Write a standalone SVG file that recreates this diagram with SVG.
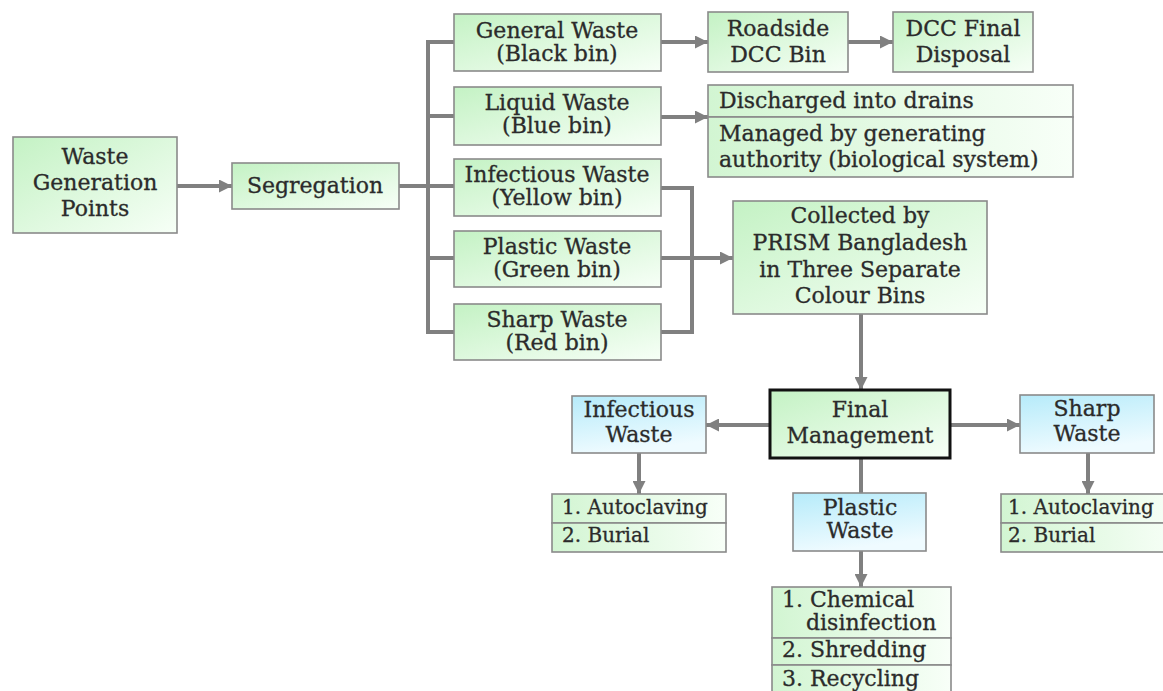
<svg xmlns="http://www.w3.org/2000/svg" width="1163" height="691" viewBox="0 0 1163 691">
<defs>
<linearGradient id="gGreen" x1="0" y1="0" x2="1" y2="1">
<stop offset="0" stop-color="#c4f2c4"/>
<stop offset="1" stop-color="#f7fff7"/>
</linearGradient>
<linearGradient id="gGreenH" x1="0" y1="0" x2="1" y2="0">
<stop offset="0" stop-color="#d2f5d2"/>
<stop offset="1" stop-color="#f8fff8"/>
</linearGradient>
<linearGradient id="gBlue" x1="0" y1="0" x2="0.3" y2="1">
<stop offset="0" stop-color="#b6ebfa"/>
<stop offset="1" stop-color="#effbff"/>
</linearGradient>
<marker id="arr" viewBox="0 0 10 10" refX="10" refY="5" markerWidth="13" markerHeight="13" markerUnits="userSpaceOnUse" orient="auto">
<path d="M0,0 L10,5 L0,10 Z" fill="#808080"/>
</marker>
</defs>
<style>
.box{fill:url(#gGreen);stroke:#8a8a8a;stroke-width:1.6}
.row{fill:url(#gGreenH);stroke:#8a8a8a;stroke-width:1.6}
.blue{fill:url(#gBlue);stroke:#8a8a8a;stroke-width:1.6}
.main{fill:url(#gGreen);stroke:#111;stroke-width:3}
text{font-family:"DejaVu Serif","Liberation Serif",serif;font-size:22px;fill:#2b2b2b;stroke:#2b2b2b;stroke-width:0.3}
.c{text-anchor:middle}
.s{font-size:20px}
.conn{fill:none;stroke:#808080;stroke-width:4}
.a{marker-end:url(#arr)}
</style>
<rect width="1163" height="691" fill="#ffffff"/>
<g id="connectors">
<line class="conn a" x1="177" y1="186" x2="232" y2="186"/>
<line class="conn" x1="399" y1="186" x2="428" y2="186"/>
<line class="conn" x1="428" y1="40" x2="428" y2="334"/>
<line class="conn" x1="426" y1="42" x2="454" y2="42"/>
<line class="conn" x1="426" y1="116" x2="454" y2="116"/>
<line class="conn" x1="426" y1="186" x2="454" y2="186"/>
<line class="conn" x1="426" y1="258" x2="454" y2="258"/>
<line class="conn" x1="426" y1="332" x2="454" y2="332"/>
<line class="conn a" x1="661" y1="42" x2="708" y2="42"/>
<line class="conn a" x1="848" y1="42" x2="893" y2="42"/>
<line class="conn a" x1="661" y1="117" x2="708" y2="117"/>
<polyline class="conn" points="661,188 692,188 692,332 661,332"/>
<line class="conn a" x1="661" y1="258" x2="733" y2="258"/>
<line class="conn a" x1="861" y1="314" x2="861" y2="390"/>
<line class="conn a" x1="770" y1="425" x2="706" y2="425"/>
<line class="conn a" x1="950" y1="425" x2="1020" y2="425"/>
<line class="conn a" x1="639" y1="453" x2="639" y2="494"/>
<line class="conn a" x1="1088" y1="453" x2="1088" y2="494"/>
<line class="conn" x1="861" y1="458" x2="861" y2="493"/>
<line class="conn a" x1="861" y1="551" x2="861" y2="587"/>
</g>
<g id="waste-generation">
<rect class="box" x="13" y="137" width="164" height="96"/>
<text class="c" x="95" y="164">Waste</text>
<text class="c" x="95" y="190">Generation</text>
<text class="c" x="95" y="216">Points</text>
</g>
<g id="segregation">
<rect class="box" x="232" y="163" width="167" height="46"/>
<text class="c" x="315" y="193">Segregation</text>
</g>
<g id="general-waste">
<rect class="box" x="454" y="14" width="207" height="57"/>
<text class="c" x="557" y="38">General Waste</text>
<text class="c" x="557" y="61">(Black bin)</text>
</g>
<g id="liquid-waste">
<rect class="box" x="454" y="87" width="207" height="58"/>
<text class="c" x="557" y="110">Liquid Waste</text>
<text class="c" x="557" y="133">(Blue bin)</text>
</g>
<g id="infectious-bin">
<rect class="box" x="454" y="159" width="207" height="57"/>
<text class="c" x="557" y="182">Infectious Waste</text>
<text class="c" x="557" y="205">(Yellow bin)</text>
</g>
<g id="plastic-bin">
<rect class="box" x="454" y="231" width="207" height="56"/>
<text class="c" x="557" y="254">Plastic Waste</text>
<text class="c" x="557" y="277">(Green bin)</text>
</g>
<g id="sharp-bin">
<rect class="box" x="454" y="304" width="207" height="56"/>
<text class="c" x="557" y="327">Sharp Waste</text>
<text class="c" x="557" y="350">(Red bin)</text>
</g>
<g id="roadside">
<rect class="box" x="708" y="12" width="140" height="60"/>
<text class="c" x="778" y="36">Roadside</text>
<text class="c" x="778" y="62">DCC Bin</text>
</g>
<g id="dcc-final">
<rect class="box" x="893" y="12" width="140" height="60"/>
<text class="c" x="963" y="36">DCC Final</text>
<text class="c" x="963" y="62">Disposal</text>
</g>
<g id="liquid-outcome">
<rect class="row" x="708" y="85" width="365" height="32"/>
<rect class="row" x="708" y="117" width="365" height="60"/>
<text x="719" y="108">Discharged into drains</text>
<text x="719" y="141">Managed by generating</text>
<text x="719" y="167">authority (biological system)</text>
</g>
<g id="collected">
<rect class="box" x="733" y="201" width="254" height="113"/>
<text class="c" x="860" y="223">Collected by</text>
<text class="c" x="860" y="250">PRISM Bangladesh</text>
<text class="c" x="860" y="277">in Three Separate</text>
<text class="c" x="860" y="303">Colour Bins</text>
</g>
<g id="final-management">
<rect class="main" x="770" y="390" width="180" height="68"/>
<text class="c" x="860" y="417">Final</text>
<text class="c" x="860" y="443">Management</text>
</g>
<g id="infectious-final">
<rect class="blue" x="572" y="396" width="134" height="57"/>
<text class="c" x="639" y="417">Infectious</text>
<text class="c" x="639" y="442">Waste</text>
</g>
<g id="sharp-final">
<rect class="blue" x="1020" y="395" width="134" height="58"/>
<text class="c" x="1087" y="416">Sharp</text>
<text class="c" x="1087" y="441">Waste</text>
</g>
<g id="plastic-final">
<rect class="blue" x="793" y="493" width="133" height="58"/>
<text class="c" x="860" y="515">Plastic</text>
<text class="c" x="860" y="538">Waste</text>
</g>
<g id="infectious-treatment">
<rect class="row" x="552" y="494" width="174" height="29"/>
<rect class="row" x="552" y="523" width="174" height="29"/>
<text class="s" x="562" y="514">1. Autoclaving</text>
<text class="s" x="562" y="542">2. Burial</text>
</g>
<g id="sharp-treatment">
<rect class="row" x="1001" y="494" width="180" height="29"/>
<rect class="row" x="1001" y="523" width="180" height="29"/>
<text class="s" x="1008" y="514">1. Autoclaving</text>
<text class="s" x="1008" y="542">2. Burial</text>
</g>
<g id="plastic-treatment">
<rect class="row" x="772" y="587" width="179" height="51"/>
<rect class="row" x="772" y="638" width="179" height="27"/>
<rect class="row" x="772" y="665" width="179" height="32"/>
<text x="782" y="607">1. Chemical</text>
<text x="806" y="630">disinfection</text>
<text x="782" y="657">2. Shredding</text>
<text x="782" y="686">3. Recycling</text>
</g>
</svg>
